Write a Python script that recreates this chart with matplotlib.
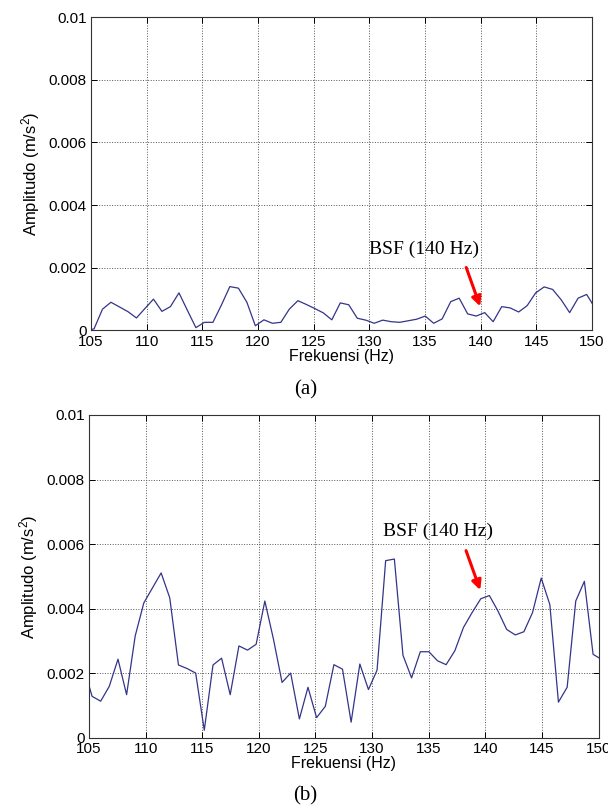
import numpy as np
import matplotlib
matplotlib.use('Agg')
import matplotlib.pyplot as plt

plt.rcParams['font.family'] = ['Liberation Sans', 'DejaVu Sans']
plt.rcParams['mathtext.fontset'] = 'custom'
plt.rcParams['mathtext.rm'] = 'Liberation Sans'
plt.rcParams['mathtext.default'] = 'regular'

# FFT bin frequencies (Hz)
freq = [104.50, 105.27, 106.03, 106.79, 107.56, 108.32, 109.08, 109.84, 110.61, 111.37,
        112.13, 112.90, 113.66, 114.42, 115.18, 115.95, 116.71, 117.47, 118.24, 119.00,
        119.76, 120.53, 121.29, 122.05, 122.81, 123.58, 124.34, 125.10, 125.87, 126.63,
        127.39, 128.15, 128.92, 129.68, 130.44, 131.20, 131.97, 132.73, 133.49, 134.26,
        135.02, 135.78, 136.54, 137.31, 138.07, 138.83, 139.60, 140.36, 141.12, 141.89,
        142.65, 143.41, 144.17, 144.94, 145.70, 146.46, 147.23, 147.99, 148.75, 149.52,
        150.28]

# amplitude spectrum, case (a), in units of 1e-3 m/s^2
amp_a = [0.00, 0.05, 0.68, 0.90, 0.75, 0.60, 0.40, 0.70, 1.00, 0.61,
         0.76, 1.20, 0.64, 0.09, 0.26, 0.26, 0.81, 1.40, 1.35, 0.90,
         0.15, 0.34, 0.23, 0.26, 0.68, 0.95, 0.83, 0.70, 0.56, 0.34,
         0.88, 0.82, 0.39, 0.33, 0.23, 0.33, 0.28, 0.26, 0.31, 0.36,
         0.46, 0.23, 0.37, 0.92, 1.03, 0.53, 0.46, 0.57, 0.28, 0.76,
         0.72, 0.59, 0.79, 1.20, 1.39, 1.31, 0.98, 0.57, 1.03, 1.15,
         0.71]

# amplitude spectrum, case (b), in units of 1e-3 m/s^2
amp_b = [2.23, 1.29, 1.14, 1.60, 2.44, 1.34, 3.16, 4.18, 4.65, 5.11,
         4.34, 2.26, 2.15, 2.01, 0.24, 2.26, 2.47, 1.34, 2.85, 2.72,
         2.90, 4.24, 3.06, 1.72, 2.01, 0.59, 1.57, 0.63, 0.98, 2.27,
         2.13, 0.49, 2.29, 1.50, 2.10, 5.49, 5.54, 2.56, 1.86, 2.67,
         2.67, 2.39, 2.27, 2.70, 3.42, 3.88, 4.31, 4.41, 3.93, 3.36,
         3.19, 3.29, 3.88, 4.95, 4.13, 1.11, 1.57, 4.24, 4.85, 2.59,
         2.43]

xticks = [105, 110, 115, 120, 125, 130, 135, 140, 145, 150]
yticks = [0, 0.002, 0.004, 0.006, 0.008, 0.01]
ytick_labels = ['0', '0.002', '0.004', '0.006', '0.008', '0.01']

freq = np.array(freq)
amp_a = np.array(amp_a) * 1e-3
amp_b = np.array(amp_b) * 1e-3

fig = plt.figure(figsize=(6.08, 8.1), dpi=100)
ax1 = fig.add_axes([0.1497, 0.592, 0.824, 0.387])
ax2 = fig.add_axes([0.1464, 0.0889, 0.838, 0.3988])

panels = [
    (ax1, amp_a, (134.9, 0.00259), (138.7, 0.00201), (139.95, 0.00077), '(a)', 0.519),
    (ax2, amp_b, (135.8, 0.00639), (138.3, 0.00580), (139.55, 0.00458), '(b)', 0.018),
]

for ax, amp, txt_xy, tail, head, tag, tag_y in panels:
    ax.plot(freq, amp, color='#34348a', lw=0.9)
    ax.set_xlim(105, 150)
    ax.set_ylim(0, 0.01)
    ax.set_xticks(xticks)
    ax.set_yticks(yticks)
    ax.set_yticklabels(ytick_labels)
    ax.tick_params(direction='in', top=True, right=True, labelsize=11,
                   length=4, width=0.7, pad=3)
    ax.grid(True, linestyle=':', color='#555555', lw=0.7)
    for sp in ax.spines.values():
        sp.set_linewidth(0.8)
        sp.set_color('#333333')
    ax.set_xlabel('Frekuensi (Hz)', fontsize=11.5, labelpad=0)
    ax.set_ylabel('Amplitudo (m/s$^{2}$)', fontsize=12, labelpad=5)

    ax.text(txt_xy[0], txt_xy[1], 'BSF (140 Hz)', family='Liberation Serif',
            fontsize=14, ha='center', va='center')
    ax.annotate('', xy=head, xytext=tail,
                arrowprops=dict(arrowstyle='-|>', color='red', lw=2.2,
                                mutation_scale=14, shrinkA=0, shrinkB=0))
    fig.text(0.502, tag_y, tag, family='Liberation Serif', fontsize=15,
             ha='center', va='center')

fig.savefig('out.png', dpi=100)
